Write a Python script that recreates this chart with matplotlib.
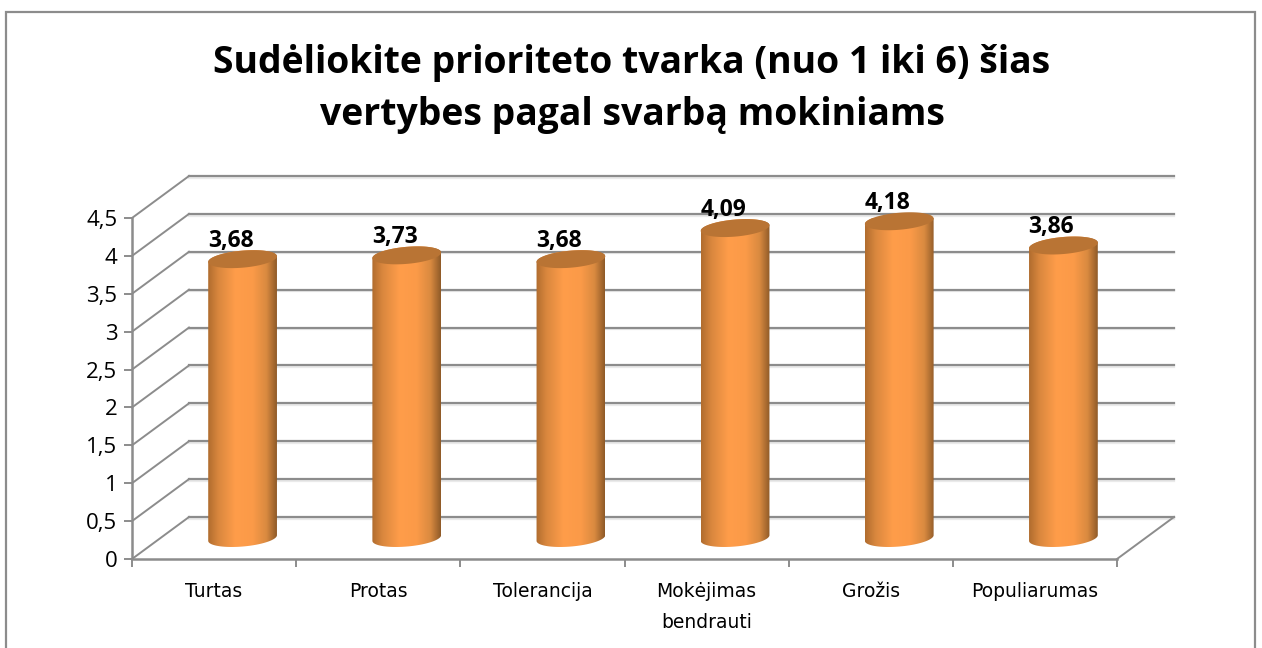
import numpy as np
import matplotlib
matplotlib.use("Agg")
from matplotlib import pyplot as plt
from matplotlib import patheffects as pe
from matplotlib.colors import LinearSegmentedColormap
from matplotlib.patches import PathPatch, Rectangle
from matplotlib.path import Path
from matplotlib.transforms import Affine2D, IdentityTransform

# Data
categories = ["Turtas", "Protas", "Tolerancija", "Mokėjimas\nbendrauti", "Grožis", "Populiarumas"]
values = [3.68, 3.73, 3.68, 4.09, 4.18, 3.86]
value_labels = ["3,68", "3,73", "3,68", "4,09", "4,18", "3,86"]
y_ticks = [0, 0.5, 1, 1.5, 2, 2.5, 3, 3.5, 4, 4.5]
y_tick_labels = ["0", "0,5", "1", "1,5", "2", "2,5", "3", "3,5", "4", "4,5"]
title = "Sudėliokite prioriteto tvarka (nuo 1 iki 6) šias\nvertybes pagal svarbą mokiniams"

W, H = 1262, 648
GRID = "#8c8c8c"
DEPTH_X, DEPTH_Y = 57, 42   # px offset of the back wall
HALF_W, HALF_H = 34.5, 8.5  # cylinder ellipse
TILT = np.deg2rad(5)

fig = plt.figure(figsize=(W / 100, H / 100), dpi=100, facecolor="white")

# Frame around the chart
fig.add_artist(Rectangle((6 / W, -0.01), 1249 / W, (H - 12) / H + 0.01, transform=fig.transFigure,
                         facecolor="none", edgecolor=GRID, linewidth=1.6))

# Axes = front plane of the 3D box
ax = fig.add_axes([132 / W, (H - 559) / H, 985 / W, 341 / H])
ax.set_facecolor("none")
ax.set_zorder(2)
back = ax.transData + Affine2D().translate(DEPTH_X, DEPTH_Y)
mid = ax.transData + Affine2D().translate(DEPTH_X / 2, DEPTH_Y / 2)
n = len(categories)

ax.set_xlim(0, n)
ax.set_ylim(0, 4.5)

# Walls
shadow = [pe.SimpleLineShadow(offset=(0, -1.2), shadow_color="#bbbbbb", alpha=0.3), pe.Normal()]
for t in y_ticks:
    ax.plot([0, n], [t, t], color=GRID, lw=1.6, transform=back, clip_on=False, zorder=1, path_effects=shadow)
    p0 = ax.transData.transform((0, t))
    ax.plot([p0[0], p0[0] + DEPTH_X], [p0[1], p0[1] + DEPTH_Y], color=GRID, lw=1.4,
            transform=IdentityTransform(), clip_on=False, zorder=1)
p0 = ax.transData.transform((n, 0))
ax.plot([p0[0], p0[0] + DEPTH_X], [p0[1], p0[1] + DEPTH_Y], color=GRID, lw=1.4,
        transform=IdentityTransform(), clip_on=False, zorder=1)
ax.plot([0, 0, n], [4.5, 0, 0], color=GRID, lw=1.8, clip_on=False, zorder=1)

for s in ax.spines.values():
    s.set_visible(False)
ax.set_yticks(y_ticks)
ax.set_yticklabels(y_tick_labels, fontname="Open Sans", fontsize=16, color="black")
ax.set_xticks(range(n + 1))
ax.set_xticklabels([""] * (n + 1))
ax.tick_params(axis="both", length=5.5, width=1.4, color=GRID, pad=5)

# Category labels
for i, cat in enumerate(categories):
    ax.annotate(cat, (i + 0.5, 0), xytext=(0, -23), textcoords="offset pixels", ha="center", va="top",
                fontname="DejaVu Sans", fontsize=13.5, color="black", linespacing=1.8, annotation_clip=False)

# Cylinders
body_cmap = LinearSegmentedColormap.from_list(
    "cyl", [(0, "#b06c2e"), (0.15, "#d9873e"), (0.4, "#ff9d4a"), (0.65, "#fb9a48"), (0.85, "#d98a40"), (1, "#8f5a28")])
angles = np.linspace(0, 2 * np.pi, 121)


def ellipse_point(cx, cy, ang):
    x = HALF_W * np.cos(ang)
    y = HALF_H * np.sin(ang)
    return cx + x * np.cos(TILT) - y * np.sin(TILT), cy + x * np.sin(TILT) + y * np.cos(TILT)


for i, val in enumerate(values):
    cx, cy_top = mid.transform((i + 0.5, val))
    _, cy_bot = mid.transform((i + 0.5, 0))

    # Outline: lower half of the floor ellipse, then upper half of the top ellipse
    low = np.linspace(np.pi, 2 * np.pi, 60)
    high = np.linspace(0, np.pi, 60)
    xb, yb = ellipse_point(cx, cy_bot, low)
    xt, yt = ellipse_point(cx, cy_top, high)
    verts = np.column_stack([np.r_[xb, xt], np.r_[yb, yt]])
    verts = np.vstack([verts, verts[0]])
    codes = [Path.MOVETO] + [Path.LINETO] * (len(verts) - 2) + [Path.CLOSEPOLY]
    body = PathPatch(Path(verts, codes), transform=IdentityTransform(), facecolor="none", edgecolor="none")
    ax.add_patch(body)
    body.set_transform(IdentityTransform())

    grad = np.linspace(0, 1, 256).reshape(1, -1)
    half_x = HALF_W / (985 / n)
    im = ax.imshow(grad, cmap=body_cmap, aspect="auto", zorder=3,
                   extent=(i + 0.5 - half_x, i + 0.5 + half_x, -0.2, val + 0.2),
                   transform=mid)
    im.set_clip_path(body)

    xe, ye = ellipse_point(cx, cy_top, angles)
    top = PathPatch(Path(np.column_stack([xe, ye])), facecolor="#b97434", edgecolor="none", zorder=4,
                    transform=IdentityTransform(), clip_on=False)
    ax.add_patch(top)

    ax.annotate(value_labels[i], (i + 0.5, val), xycoords=mid, xytext=(-12, 18), textcoords="offset pixels",
                ha="center", va="center", fontname="Open Sans", fontweight="bold", fontsize=16.5,
                color="black", zorder=5, annotation_clip=False)

ax.set_xlim(0, n)
ax.set_ylim(0, 4.5)

fig.text(632 / W, (H - 89) / H, title, ha="center", va="center", fontname="Open Sans", fontweight="bold",
         fontsize=26.9, linespacing=1.48, color="black")

fig.savefig("out.png", dpi=100, facecolor="white")
